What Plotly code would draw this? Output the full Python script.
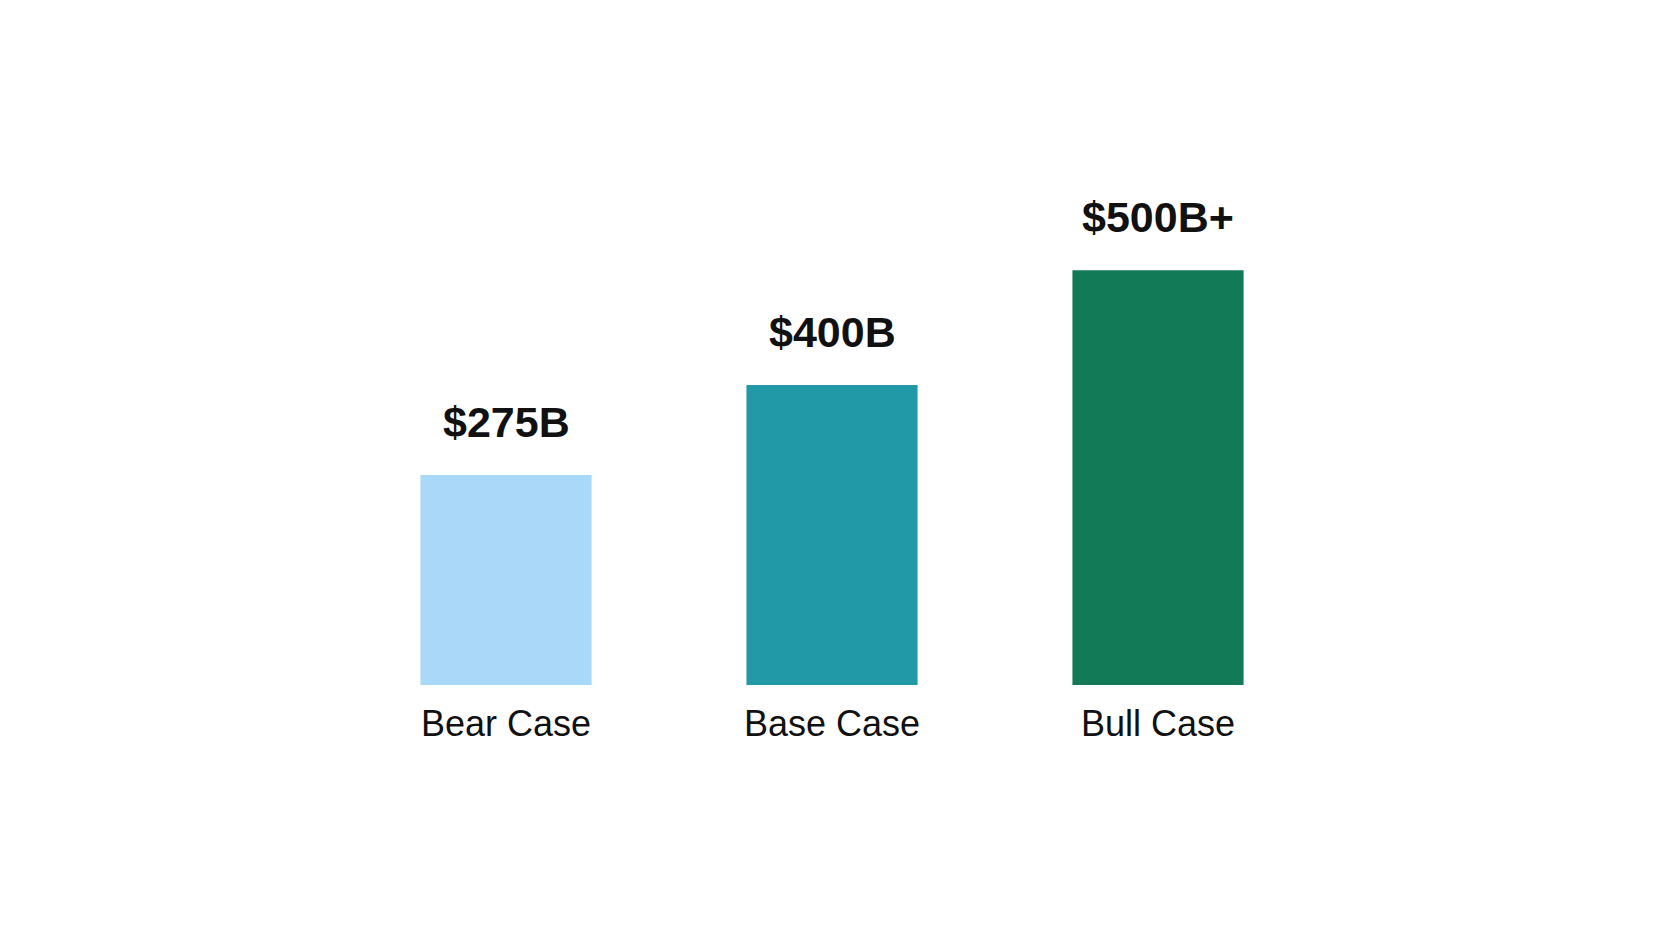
import plotly.graph_objects as go

# scenario data
scenarios = ["Bear Case", "Base Case", "Bull Case"]
values = [280, 400, 553]
value_labels = ["$275B", "$400B", "$500B+"]
bar_colors = ["#AAD8F9", "#2199A7", "#127A56"]

fig = go.Figure()

fig.add_trace(go.Bar(
    x=scenarios,
    y=values,
    marker=dict(color=bar_colors, line=dict(width=0)),
    width=0.525,
    hoverinfo="skip",
))

# value labels sit well above each bar
for s, v, lab in zip(scenarios, values, value_labels):
    fig.add_annotation(
        x=s, y=v, text="<b>" + lab + "</b>",
        showarrow=False, yanchor="bottom", yshift=27,
        font=dict(family="Liberation Sans, Arial, sans-serif", size=43, color="#111111"),
    )

fig.update_layout(
    width=1666,
    height=937,
    paper_bgcolor="white",
    plot_bgcolor="white",
    showlegend=False,
    margin=dict(l=335, r=353, t=92, b=260),
    xaxis=dict(
        showgrid=False, showline=False, zeroline=False, ticks="",
        tickfont=dict(family="Liberation Sans, Arial, sans-serif", size=36, color="#111111"),
        ticklabelstandoff=14,
        range=[-0.5, 2.5],
    ),
    yaxis=dict(
        visible=False, range=[0, 780],
    ),
)

fig.write_html("out.html")
